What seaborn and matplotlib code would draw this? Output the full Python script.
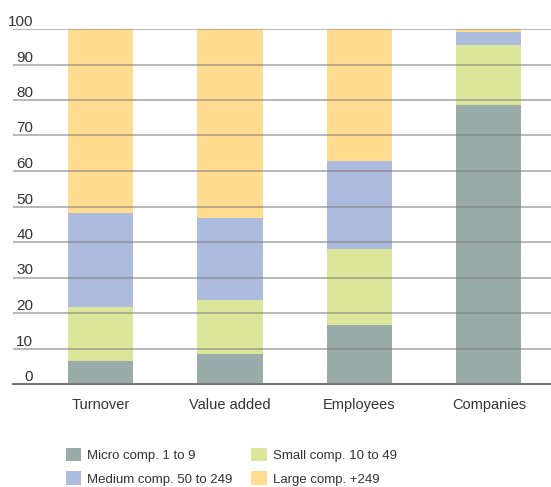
import matplotlib
matplotlib.use("Agg")
import matplotlib.pyplot as plt
from matplotlib.patches import Patch
import seaborn as sns
import numpy as np
import pandas as pd

categories = ["Turnover", "Value added", "Employees", "Companies"]
micro = [6.6, 8.5, 16.6, 78.6]
small = [15.1, 15.2, 21.4, 16.9]
medium = [26.6, 23.1, 24.8, 3.7]
large = [51.7, 53.2, 37.2, 0.8]
series_names = ["Micro comp. 1 to 9", "Small comp. 10 to 49",
                "Medium comp. 50 to 249", "Large comp. +249"]
y_ticks = [0, 10, 20, 30, 40, 50, 60, 70, 80, 90, 100]

colors = ["#9aaca9", "#dce69a", "#adbbdf", "#ffdc8f"]

sns.set_style("white")
plt.rcParams["font.family"] = ["Liberation Sans Narrow", "Liberation Sans", "DejaVu Sans"]

fig = plt.figure(figsize=(5.51, 4.87), dpi=100)
ax = fig.add_axes([13 / 551, 1 - 384 / 487, 1 - 13 / 551, 355 / 487])

series = [micro, small, medium, large]
bottom = np.zeros(len(categories))
for vals, col in zip(series, colors):
    df = pd.DataFrame({"cat": categories, "val": vals})
    sns.barplot(data=df, x="cat", y="val", color=col, width=0.503,
                bottom=bottom.copy(), ax=ax, saturation=1, edgecolor="none",
                linewidth=0)
    bottom += np.array(vals)

ax.set_ylim(0, 100)
ax.set_xlim(-0.677, 3.48)
ax.set_yticks(y_ticks)
ax.set_yticklabels([str(t) for t in y_ticks])
ax.set_xlabel("")
ax.set_ylabel("")
ax.set_axisbelow(False)
ax.grid(axis="y", color="#808080", alpha=0.65, linewidth=1.2)
ax.grid(axis="x", visible=False)
for s in ["top", "right", "left"]:
    ax.spines[s].set_visible(False)
ax.spines["bottom"].set_color("#707070")
ax.spines["bottom"].set_linewidth(1.5)

ax.tick_params(axis="y", length=0, pad=-14.5, labelsize=11, labelcolor="#333333")
for lab in ax.get_yticklabels():
    lab.set_horizontalalignment("right")
    lab.set_verticalalignment("bottom")
ax.tick_params(axis="x", length=0, pad=10, labelsize=10.5, labelcolor="#333333")

handles = [Patch(facecolor=c, edgecolor="none") for c in colors]
order = [0, 2, 1, 3]
fig.legend([handles[i] for i in order], [series_names[i] for i in order],
           ncol=2, loc="upper left", bbox_to_anchor=(55 / 551, 1 - 437 / 487),
           frameon=False, fontsize=9.5, handlelength=1.2, handleheight=1.2,
           handletextpad=0.45, columnspacing=1.4, labelspacing=0.73,
           borderpad=0.3, labelcolor="#333333")

fig.savefig("out.png", dpi=100)
